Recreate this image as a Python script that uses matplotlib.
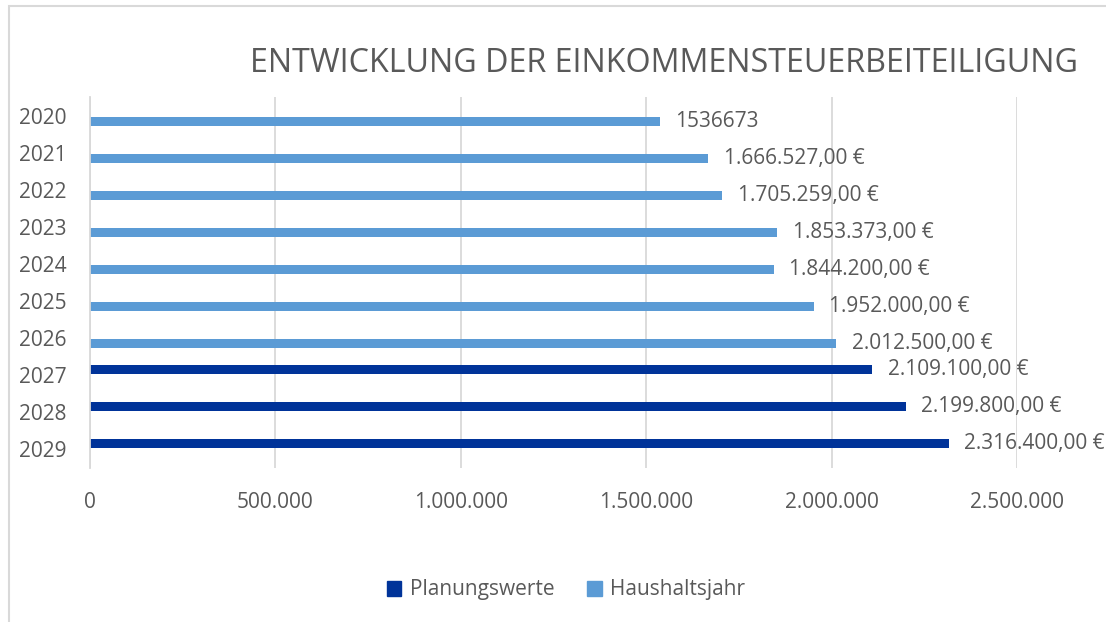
import matplotlib
matplotlib.use("Agg")
import matplotlib.pyplot as plt
from matplotlib.patches import Patch, Rectangle

years = ["2020", "2021", "2022", "2023", "2024", "2025", "2026", "2027", "2028", "2029"]
haushalt = [1536673, 1666527, 1705259, 1853373, 1844200, 1952000, 2012500]
planung = [2109100, 2199800, 2316400]
labels = ["1536673", "1.666.527,00 €", "1.705.259,00 €", "1.853.373,00 €", "1.844.200,00 €",
          "1.952.000,00 €", "2.012.500,00 €", "2.109.100,00 €", "2.199.800,00 €", "2.316.400,00 €"]
xticks = [0, 500000, 1000000, 1500000, 2000000, 2500000]
xticklabels = ["0", "500.000", "1.000.000", "1.500.000", "2.000.000", "2.500.000"]

light = "#5b9bd5"
dark = "#003399"
grey = "#595959"
grid = "#d9d9d9"

plt.rcParams["font.family"] = ["Open Sans", "DejaVu Sans"]

fig = plt.figure(figsize=(11.06, 6.22), dpi=100)
ax = fig.add_axes([90 / 1106, 1 - 468 / 622, (1017 - 90) / 1106, (468 - 97) / 622])

h = 0.242
off = 0.148
pos_h = list(range(len(haushalt)))
pos_p = list(range(len(haushalt), len(years)))
ax.barh([p + off for p in pos_h], haushalt, height=h, color=light, label="Haushaltsjahr")
ax.barh([p - off for p in pos_p], planung, height=h, color=dark, label="Planungswerte")

# data labels right of each bar
vals = haushalt + planung
for i, (v, lab) in enumerate(zip(vals, labels)):
    y = i + off if i < len(haushalt) else i - off
    ax.text(v + 42000, y, lab, va="center", ha="left", fontsize=15, color=grey)

ax.set_xlim(0, 2500000)
ax.set_ylim(9.5, -0.5)
ax.set_yticks(range(len(years)))
ax.set_yticklabels(years)
ax.set_xticks(xticks)
ax.set_xticklabels(xticklabels)
ax.tick_params(axis="both", length=0, labelsize=15, colors=grey)
ax.tick_params(axis="y", pad=17)
ax.tick_params(axis="x", pad=17)
ax.grid(axis="x", color=grid, linewidth=1.3)
ax.set_axisbelow(True)
for s in ["top", "right", "bottom"]:
    ax.spines[s].set_visible(False)
ax.spines["left"].set_color(grid)
ax.spines["left"].set_linewidth(1.3)

fig.text(664 / 1106, 1 - 64 / 622, "ENTWICKLUNG DER EINKOMMENSTEUERBEITEILIGUNG",
         ha="center", va="center", fontsize=23.2, color=grey)

handles = [Patch(color=dark, label="Planungswerte"), Patch(color=light, label="Haushaltsjahr")]
fig.legend(handles=handles, loc="center", bbox_to_anchor=(566 / 1106, 1 - 590 / 622), ncol=2,
           frameon=False, fontsize=15, labelcolor=grey, handlelength=0.7, handleheight=0.7,
           handletextpad=0.4, columnspacing=1.6)

fig.patches.append(Rectangle((9 / 1106, -0.1), 1.2, 1.1 - 6 / 622, transform=fig.transFigure,
                             fill=False, edgecolor=grid, linewidth=1.5))

fig.savefig("out.png", dpi=100)
